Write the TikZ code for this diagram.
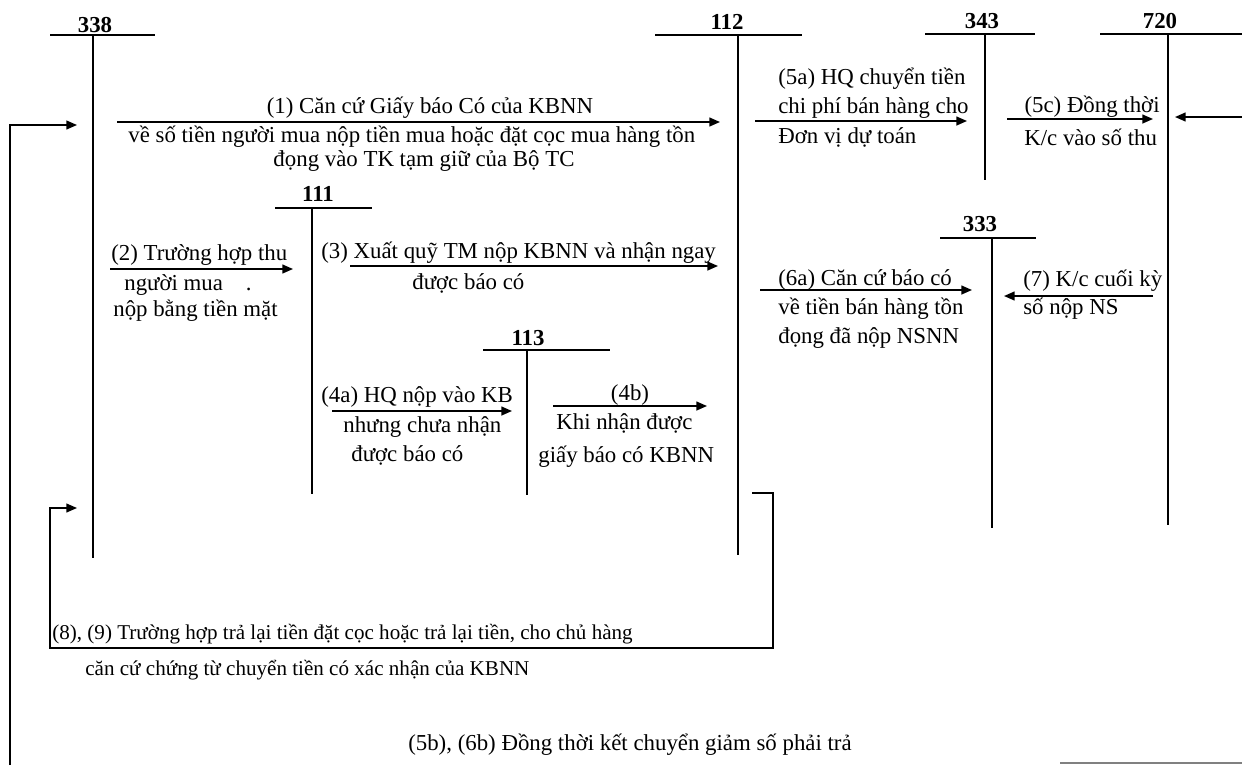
\documentclass[tikz,border=0pt]{standalone}
\usepackage{fontspec}
\setmainfont{Liberation Serif}
\usetikzlibrary{arrows.meta}

\tikzset{
  tline/.style={line width=1.3pt},
  flow/.style={line width=0.9pt,-{Triangle[length=6pt,width=5pt]}},
  link/.style={line width=0.8pt},
  acct/.style={inner sep=0pt,font=\fontsize{13}{15}\selectfont\bfseries},
  txt/.style={inner sep=0pt,anchor=west,font=\fontsize{13}{15}\selectfont},
  small/.style={inner sep=0pt,anchor=west,font=\fontsize{12}{14}\selectfont},
}

\begin{document}
\begin{tikzpicture}[x=0.02cm,y=-0.02cm]
\useasboundingbox (0,0) rectangle (1242,765);

% T-accounts
\node[acct] (t338) at (95,25) {338};
\draw[tline] (50,35) -- (155,35);
\draw[tline] (93,35) -- (93,558);
\node[acct] (t112) at (727,22) {112};
\draw[tline] (655,35) -- (802,35);
\draw[tline] (738,35) -- (738,555);
\node[acct] (t343) at (982,21) {343};
\draw[tline] (925,34) -- (1035,34);
\draw[tline] (985,34) -- (985,180);
\node[acct] (t720) at (1160,21) {720};
\draw[tline] (1100,34) -- (1242,34);
\draw[tline] (1168,34) -- (1168,525);
\node[acct] (t111) at (318,194) {111};
\draw[tline] (275,208) -- (372,208);
\draw[tline] (312,208) -- (312,494);
\node[acct] (t113) at (528,338) {113};
\draw[tline] (483,350) -- (610,350);
\draw[tline] (527,350) -- (527,495);
\node[acct] (t333) at (980,224) {333};
\draw[tline] (940,238) -- (1036,238);
\draw[tline] (992,238) -- (992,528);

% (1)
\coordinate (p1a) at (117,122);
\coordinate (p1b) at (720,122);
\draw[flow] (p1a) -- (p1b);
\node[txt,anchor=center] (l1a) at (430,108) {(1) Căn cứ Giấy báo Có của KBNN};
\node[txt] (l1b) at (128,137) {về số tiền người mua nộp tiền mua hoặc đặt cọc mua hàng tồn};
\node[txt,anchor=center] (l1c) at (424,161) {đọng vào TK tạm giữ của Bộ TC};

% (2)
\coordinate (p2a) at (110,269);
\coordinate (p2b) at (293,269);
\draw[flow] (p2a) -- (p2b);
\node[txt] (l2a) at (111,255) {(2) Trường hợp thu};
\node[txt] (l2b) at (124,285) {người mua\quad .};
\node[txt] (l2c) at (113,311) {nộp bằng tiền mặt};

% (3)
\coordinate (p3a) at (350,266);
\coordinate (p3b) at (718,266);
\draw[flow] (p3a) -- (p3b);
\node[txt] (l3a) at (321,253) {(3) Xuất quỹ TM nộp KBNN và nhận ngay};
\node[txt] (l3b) at (412,283) {được báo có};

% (4a)
\coordinate (p4a) at (332,411);
\coordinate (p4b) at (512,411);
\draw[flow] (p4a) -- (p4b);
\node[txt] (l4a) at (321,397) {(4a) HQ nộp vào KB};
\node[txt] (l4b) at (343,427) {nhưng chưa nhận};
\node[txt] (l4c) at (351,455) {được báo có};

% (4b)
\coordinate (p4c) at (553,406);
\coordinate (p4d) at (707,406);
\draw[flow] (p4c) -- (p4d);
\node[txt,anchor=center] (l4d) at (630,395) {(4b)};
\node[txt] (l4e) at (556,423) {Khi nhận được};
\node[txt] (l4f) at (538,457) {giấy báo có KBNN};

% (5a)
\coordinate (p5a) at (755,121);
\coordinate (p5b) at (967,121);
\draw[flow] (p5a) -- (p5b);
\node[txt] (l5a) at (778,79) {(5a) HQ chuyển tiền};
\node[txt] (l5b) at (778,108) {chi phí bán hàng cho};
\node[txt] (l5c) at (778,137) {Đơn vị dự toán};

% (5c)
\coordinate (p5c) at (1007,119);
\coordinate (p5d) at (1153,119);
\draw[flow] (p5c) -- (p5d);
\node[txt,anchor=east] (l5d) at (1160,107) {(5c) Đồng thời};
\node[txt] (l5e) at (1024,137) {K/c vào số thu};
\coordinate (p5e) at (1242,117);
\coordinate (p5f) at (1175,117);
\draw[flow] (p5e) -- (p5f);

% (6a)
\coordinate (p6a) at (760,290);
\coordinate (p6b) at (972,290);
\draw[flow] (p6a) -- (p6b);
\node[txt] (l6a) at (778,280) {(6a) Căn cứ báo có};
\node[txt] (l6b) at (778,309) {về tiền bán hàng tồn};
\node[txt] (l6c) at (778,338) {đọng đã nộp NSNN};

% (7)
\coordinate (p7a) at (1153,296);
\coordinate (p7b) at (1004,296);
\draw[flow] (p7a) -- (p7b);
\node[txt] (l7a) at (1023,281) {(7) K/c cuối kỳ};
\node[txt] (l7b) at (1023,309) {số nộp NS};

% (8), (9)
\coordinate (p8a) at (752,493);
\coordinate (p8b) at (77,508);
\draw[link,-{Triangle[length=6pt,width=5pt]}] (p8a) -- (773,493) -- (773,648) -- (50,648) -- (50,508) -- (p8b);
\node[small] (l8a) at (52,634) {(8), (9) Trường hợp trả lại tiền đặt cọc hoặc trả lại tiền, cho chủ hàng};
\node[small] (l8b) at (85,670) {căn cứ chứng từ chuyển tiền có xác nhận của KBNN};

% (5b), (6b)
\coordinate (p9a) at (10,765);
\coordinate (p9b) at (77,125);
\draw[link,-{Triangle[length=6pt,width=5pt]}] (p9a) -- (10,125) -- (p9b);
\coordinate (p9c) at (1060,763);
\coordinate (p9d) at (1242,763);
\draw[link,gray] (p9c) -- (p9d);
\node[txt,anchor=center] (l9a) at (630,745) {(5b), (6b) Đồng thời kết chuyển giảm số phải trả};

\end{tikzpicture}
\end{document}
